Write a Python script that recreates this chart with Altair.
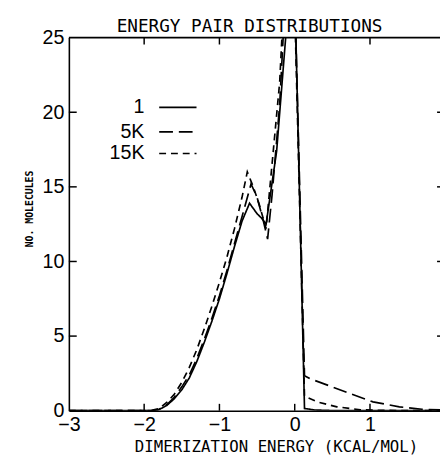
import altair as alt
import pandas as pd

# ---- data ----
series_names = ["1", "5K", "15K"]

x_1 = [-3.0, -2.0, -1.9, -1.8, -1.7, -1.6, -1.5, -1.4, -1.3, -1.2, -1.1, -1.0, -0.9, -0.8, -0.7,
       -0.6, -0.5, -0.44, -0.38, -0.24, -0.12, -0.03, 0.13, 0.26, 0.5, 2.0]
y_1 = [0, 0, 0.0, 0.08, 0.35, 0.8, 1.4, 2.2, 3.3, 4.6, 6.0, 7.5, 9.2, 11.0, 12.7,
       13.9, 13.2, 12.9, 12.5, 17.4, 25.0, 35.0, 0.15, 0.05, 0.01, 0]

x_5k = [-3.0, -2.0, -1.9, -1.8, -1.7, -1.6, -1.5, -1.4, -1.3, -1.2, -1.1, -1.0, -0.9, -0.8, -0.7,
        -0.58, -0.5, -0.42, -0.36, -0.3, -0.2, -0.04, 0.13, 0.2, 0.39, 0.74, 1.04, 1.39, 1.69, 2.0]
y_5k = [0, 0, 0.0, 0.1, 0.4, 0.9, 1.6, 2.4, 3.5, 4.8, 6.2, 7.7, 9.4, 11.2, 13.0,
        15.2, 14.3, 12.8, 11.5, 14.5, 20.5, 36.0, 2.35, 2.15, 1.8, 1.14, 0.59, 0.26, 0.1, 0.04]

x_15k = [-3.0, -2.0, -1.9, -1.8, -1.7, -1.6, -1.5, -1.4, -1.3, -1.2, -1.1, -1.0, -0.9, -0.8, -0.7,
         -0.63, -0.55, -0.47, -0.38, -0.32, -0.2, -0.05, 0.13, 0.3, 0.56, 0.87, 1.2, 2.0]
y_15k = [0, 0, 0.02, 0.15, 0.55, 1.1, 1.9, 2.9, 4.1, 5.5, 7.0, 8.6, 10.3, 12.2, 14.3,
         16.0, 15.0, 13.8, 12.2, 15.5, 22.0, 37.0, 0.97, 0.59, 0.26, 0.06, 0.02, 0]

x_tick_values = [-3, -2, -1, 0, 1, 2]
y_tick_values = [0, 5, 10, 15, 20, 25]
bottom_inner_ticks = [-2, -1, 0, 1]
top_inner_ticks = [-2, -1, 1]
side_inner_ticks = [5, 10, 15, 20]
title_text = "ENERGY PAIR DISTRIBUTIONS"

# ---- build table ----
rows = []
for name, xs, ys in [("1", x_1, y_1), ("5K", x_5k, y_5k), ("15K", x_15k, y_15k)]:
    for i, (a, b) in enumerate(zip(xs, ys)):
        rows.append({"x": a, "y": b, "series": name, "i": i})
df = pd.DataFrame(rows)

W, H = 378, 380
xscale = alt.Scale(domain=[-3, 1.93], nice=False, zero=False)
yscale = alt.Scale(domain=[0, 25], nice=False, zero=False)
dash_scale = alt.Scale(domain=series_names, range=[[1, 0], [14, 6], [7, 5]])

label_font = "Liberation Sans"
mono = "DejaVu Sans Mono"

lines = alt.Chart(df).mark_line(clip=True, strokeWidth=1.7, color="black").encode(
    x=alt.X("x:Q", scale=xscale,
            axis=alt.Axis(values=x_tick_values, tickSize=0, format="d", grid=False,
                          labelFont=label_font, labelFontSize=20, labelColor="black",
                          labelPadding=4, labelFlush=False, labelBound=False, labelOverlap=False,
                          domainColor="black", domainWidth=1.6,
                          title="DIMERIZATION ENERGY (KCAL/MOL)", titleFont=mono,
                          titleFontSize=16, titleFontWeight="normal", titleColor="black",
                          titleX=211, titleY=42, titleBaseline="alphabetic", titleAlign="center")),
    y=alt.Y("y:Q", scale=yscale,
            axis=alt.Axis(values=y_tick_values, tickSize=0, format="d", grid=False,
                          labelFont=label_font, labelFontSize=20, labelColor="black",
                          labelPadding=5, labelFlush=False, labelBound=False, labelOverlap=False,
                          domainColor="black", domainWidth=1.6,
                          title="NO. MOLECULES", titleFont=mono, titleFontSize=10,
                          titleFontWeight="bold", titleColor="black", titleAngle=270,
                          titleX=-40, titleY=174, titleAlign="center", titleBaseline="middle")),
    strokeDash=alt.StrokeDash("series:N", scale=dash_scale, legend=None),
    order="i:Q",
)

tick_b = alt.Chart(pd.DataFrame({"v": bottom_inner_ticks})).mark_rule(color="black", strokeWidth=1.5).encode(
    x=alt.X("v:Q", scale=xscale), y=alt.value(H), y2=alt.value(H - 7))
tick_t = alt.Chart(pd.DataFrame({"v": top_inner_ticks})).mark_rule(color="black", strokeWidth=1.5).encode(
    x=alt.X("v:Q", scale=xscale), y=alt.value(0), y2=alt.value(7))
tick_l = alt.Chart(pd.DataFrame({"v": side_inner_ticks})).mark_rule(color="black", strokeWidth=1.5).encode(
    y=alt.Y("v:Q", scale=yscale), x=alt.value(0), x2=alt.value(8))
tick_r = alt.Chart(pd.DataFrame({"v": side_inner_ticks})).mark_rule(color="black", strokeWidth=1.5).encode(
    y=alt.Y("v:Q", scale=yscale), x=alt.value(W - 3), x2=alt.value(W))
top_frame = alt.Chart(pd.DataFrame({"v": [25]})).mark_rule(color="black", strokeWidth=1.6).encode(
    y=alt.Y("v:Q", scale=yscale), x=alt.value(0), x2=alt.value(W))

title_layer = alt.Chart(pd.DataFrame({"t": [title_text]})).mark_text(
    font=mono, fontSize=18, color="black", align="center", baseline="alphabetic").encode(
    text="t:N", x=alt.value(184), y=alt.value(-6))

legend_layers = []
legend_y = [71, 96, 118]
legend_dash = [[1, 0], [14, 6], [7, 5]]
for name, ly, dash in zip(series_names, legend_y, legend_dash):
    d = pd.DataFrame({"series": [name]})
    legend_layers.append(alt.Chart(d).mark_text(align="right", baseline="middle", font=label_font,
                                                fontSize=20, color="black").encode(
        text="series:N", x=alt.value(77), y=alt.value(ly)))
    legend_layers.append(alt.Chart(d).mark_rule(color="black", strokeWidth=1.7, strokeDash=dash).encode(
        x=alt.value(92), x2=alt.value(130), y=alt.value(ly)))

chart = alt.layer(lines, tick_b, tick_t, tick_l, tick_r, top_frame, title_layer, *legend_layers).properties(
    width=W, height=H,
    autosize=alt.AutoSizeParams(type="none"),
    padding={"left": 62, "top": 26, "right": 0, "bottom": 44},
    background="white",
).configure_view(stroke=None)

chart.save("out.html", embed_options={"renderer": "svg", "actions": False})
